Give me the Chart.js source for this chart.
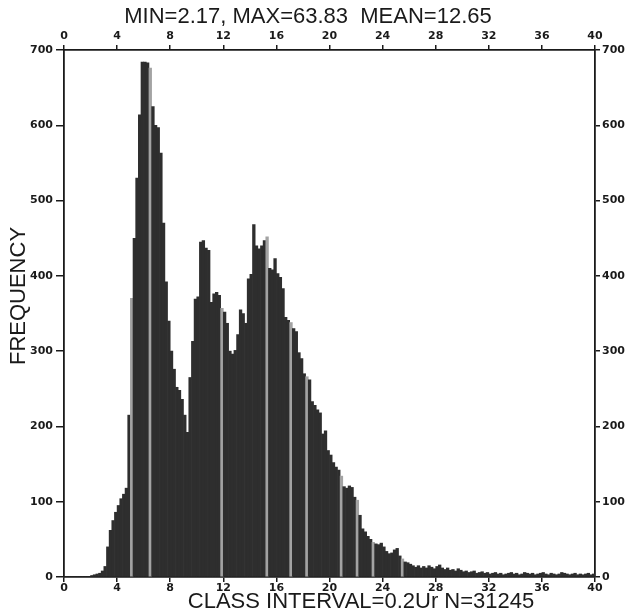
<!DOCTYPE html>
<html>
<head>
<meta charset="utf-8">
<title>Frequency histogram</title>
<script src="https://cdn.jsdelivr.net/npm/chart.js@4/dist/chart.umd.min.js"></script>
<style>
  html, body { margin: 0; padding: 0; background: #fff; }
  #wrap { width: 625px; height: 616px; }
</style>
</head>
<body>
<div id="wrap"><canvas id="hist" width="625" height="616"></canvas></div>
<script>
// class interval of the histogram (x units)
const CLASS_INTERVAL = 0.2;

// frequency per class, starting at 0.0-0.2
const frequency = [
  0, 0, 0, 0, 0, 0, 0, 0, 0, 0,
  2, 3, 4, 5, 8, 14, 40, 62, 75, 86,
  95, 104, 110, 118, 215, 370, 450, 530, 614, 684,
  684, 683, 676, 625, 600, 597, 563, 470, 392, 340,
  300, 276, 252, 248, 236, 215, 192, 265, 313, 369,
  372, 445, 447, 437, 434, 365, 376, 378, 374, 357,
  352, 337, 300, 296, 301, 322, 355, 350, 337, 396,
  402, 468, 440, 436, 440, 447, 452, 410, 408, 423,
  403, 398, 383, 345, 341, 338, 330, 326, 298, 290,
  270, 266, 262, 233, 228, 222, 218, 190, 194, 168,
  162, 152, 146, 142, 134, 120, 118, 121, 119, 106,
  102, 82, 64, 60, 54, 50, 46, 44, 43, 45,
  40, 34, 31, 32, 36, 38, 28, 24, 20, 19,
  17, 15, 13, 15, 12, 14, 12, 15, 13, 11,
  14, 16, 12, 10, 12, 9, 10, 8, 11, 9,
  7, 8, 6, 7, 8, 5, 6, 7, 5, 6,
  4, 5, 6, 4, 5, 3, 4, 5, 6, 4,
  5, 3, 4, 6, 5, 4, 5, 3, 4, 5,
  6, 4, 3, 5, 4, 3, 4, 6, 5, 4,
  3, 4, 5, 3, 4, 3, 4, 5, 3, 4
];

// tick labels
const xTicks = [0, 4, 8, 12, 16, 20, 24, 28, 32, 36, 40];
const yTicks = [0, 100, 200, 300, 400, 500, 600, 700];

// texts
const topText = 'MIN=2.17, MAX=63.83  MEAN=12.65';
const bottomText = 'CLASS INTERVAL=0.2Ur N=31245';
const yTitle = 'FREQUENCY';

// classes that came out lighter on the scan
const lightBars = [25, 32, 59, 76, 85, 91, 104, 110, 116, 127];

const classCentres = frequency.map((_, i) => +(i * CLASS_INTERVAL + CLASS_INTERVAL / 2).toFixed(2));
const barColours = frequency.map((_, i) => lightBars.includes(i) ? '#a3a3a3' : '#2e2e2e');

const ink = '#1a1a1a';
const tickFont = { family: 'DejaVu Sans', size: 11, weight: 'bold' };

function xAxis(position, height, padding) {
    return {
        type: 'linear',
        position: position,
        min: 0,
        max: 40,
        offset: false,
        afterBuildTicks: s => { s.ticks = xTicks.map(v => ({ value: v })); },
        afterFit: s => { s.height = height; },
        ticks: { font: tickFont, color: ink, padding: padding, maxRotation: 0 },
        grid: { offset: false, drawOnChartArea: false, tickLength: 5, color: ink, lineWidth: 1.5 },
        border: { display: true, color: ink, width: 1.8 }
    };
}

function yAxis(position, width, tickLength, padding) {
    return {
        type: 'linear',
        position: position,
        min: 0,
        max: 700,
        afterBuildTicks: s => { s.ticks = yTicks.map(v => ({ value: v })); },
        afterFit: s => { s.width = width; },
        ticks: { font: tickFont, color: ink, padding: padding },
        grid: { drawOnChartArea: false, tickLength: tickLength, color: ink, lineWidth: 1.5 },
        border: { display: true, color: ink, width: 1.8 }
    };
}

// draws the caption lines round the frame
const captions = {
    id: 'captions',
    afterDraw(chart) {
        const c = chart.ctx;
        c.save();
        c.fillStyle = ink;
        c.font = '22px "Liberation Sans", Arial, sans-serif';
        c.textAlign = 'center';
        c.textBaseline = 'middle';
        c.fillText(topText, 308, 17);
        c.fillText(bottomText, 361, 602);
        c.translate(19, 296);
        c.rotate(-Math.PI / 2);
        c.fillText(yTitle, 0, 0);
        c.restore();
    }
};

new Chart(document.getElementById('hist'), {
    type: 'bar',
    data: {
        labels: classCentres,
        datasets: [{
            label: 'Frequency',
            data: frequency,
            xAxisID: 'x',
            yAxisID: 'y',
            backgroundColor: barColours,
            borderWidth: 0,
            barPercentage: 1,
            categoryPercentage: 1
        }]
    },
    options: {
        responsive: false,
        animation: false,
        layout: { padding: 0 },
        plugins: {
            legend: { display: false },
            tooltip: { enabled: false }
        },
        scales: {
            x: xAxis('bottom', 39, 0),
            x2: xAxis('top', 50, 2),
            y: yAxis('left', 64, 8, 3),
            y2: yAxis('right', 30, 5, 2)
        }
    },
    plugins: [captions]
});
</script>
</body>
</html>
